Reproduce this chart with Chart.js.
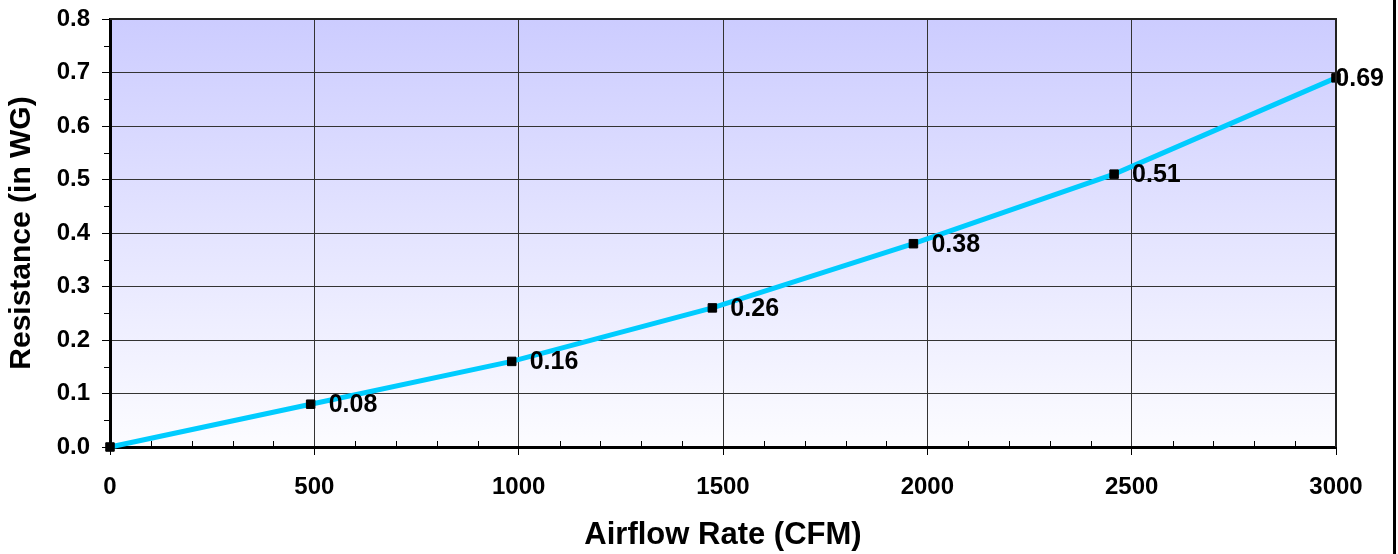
<!DOCTYPE html>
<html>
<head>
<meta charset="utf-8">
<script src="https://cdn.jsdelivr.net/npm/chart.js@4.4.1/dist/chart.umd.min.js"></script>
<style>
    html, body { margin: 0; padding: 0; background: #fff; }
    #wrap { width: 1398px; height: 554px; position: relative; }
</style>
</head>
<body>
<div id="wrap"><canvas id="resistanceChart" width="1398" height="554"></canvas></div>
<script>
// airflow (CFM) vs resistance (in WG)
const airflow = [0, 491, 983, 1474, 1966, 2457, 3000];
const resistance = [0, 0.08, 0.16, 0.26, 0.38, 0.51, 0.69];
const pointLabels = ['', '0.08', '0.16', '0.26', '0.38', '0.51', '0.69'];
const xMinorTicks = [100, 200, 300, 400, 600, 700, 800, 900, 1100, 1200, 1300, 1400,
    1600, 1700, 1800, 1900, 2100, 2200, 2300, 2400, 2600, 2700, 2800, 2900];
const yMinorTicks = [0.05, 0.15, 0.25, 0.35, 0.45, 0.55, 0.65, 0.75];

const fontFamily = "'Liberation Sans', Arial, sans-serif";

const plotBackground = {
    id: 'plotBackground',
    beforeDraw(chart) {
        const { ctx, chartArea: a } = chart;
        const grad = ctx.createLinearGradient(0, a.top, 0, a.bottom);
        grad.addColorStop(0, '#ccccff');
        grad.addColorStop(1, '#fcfcff');
        ctx.save();
        ctx.fillStyle = grad;
        ctx.fillRect(a.left, a.top, a.right - a.left, a.bottom - a.top);
        ctx.restore();
    },
    afterDraw(chart) {
        const { ctx, chartArea: a } = chart;
        const xs = chart.scales.x, ys = chart.scales.y;
        ctx.save();
        // minor ticks
        ctx.strokeStyle = '#000';
        ctx.lineWidth = 1;
        ctx.beginPath();
        xMinorTicks.forEach(v => {
            const px = Math.round(xs.getPixelForValue(v)) + 0.5;
            ctx.moveTo(px, a.bottom);
            ctx.lineTo(px, a.bottom - 6);
        });
        yMinorTicks.forEach(v => {
            const py = Math.round(ys.getPixelForValue(v)) + 0.5;
            ctx.moveTo(a.left, py);
            ctx.lineTo(a.left - 6, py);
        });
        ctx.stroke();
        // top and right frame of plot area
        ctx.strokeStyle = '#222';
        ctx.lineWidth = 2;
        ctx.beginPath();
        ctx.moveTo(a.left, a.top);
        ctx.lineTo(a.right, a.top);
        ctx.lineTo(a.right, a.bottom);
        ctx.stroke();
        // outer edge line on the right
        ctx.fillStyle = '#000';
        ctx.fillRect(1393, 0, 3, 554);
        ctx.restore();
    }
};

const valueLabels = {
    id: 'valueLabels',
    afterDatasetsDraw(chart) {
        const { ctx } = chart;
        const meta = chart.getDatasetMeta(0);
        ctx.save();
        ctx.font = 'bold 25px ' + fontFamily;
        ctx.fillStyle = '#000';
        ctx.textBaseline = 'middle';
        ctx.textAlign = 'left';
        meta.data.forEach((pt, i) => {
            const txt = pointLabels[i];
            if (!txt) return;
            const w = ctx.measureText(txt).width;
            const x = Math.min(pt.x + 18, 1384 - w);
            ctx.fillText(txt, x, pt.y + 1);
        });
        ctx.restore();
    }
};

function noScalePadding(scale) {
    scale.paddingTop = 0;
    scale.paddingBottom = 0;
    scale.paddingLeft = 0;
    scale.paddingRight = 0;
}

new Chart(document.getElementById('resistanceChart'), {
    type: 'scatter',
    data: {
        datasets: [{
            data: airflow.map((x, i) => ({ x: x, y: resistance[i] })),
            showLine: true,
            borderColor: '#00ccff',
            borderWidth: 5,
            tension: 0,
            pointStyle: 'rect',
            pointRadius: 6,
            pointBackgroundColor: '#000',
            pointBorderColor: '#000',
            pointBorderWidth: 1,
            clip: false
        }]
    },
    options: {
        responsive: false,
        animation: false,
        devicePixelRatio: 1,
        layout: { padding: { left: 0, right: 62, top: 19, bottom: 0 } },
        plugins: {
            legend: { display: false },
            tooltip: { enabled: false }
        },
        scales: {
            x: {
                type: 'linear',
                min: 0,
                max: 3000,
                afterFit(scale) { scale.height = 107; noScalePadding(scale); },
                ticks: {
                    stepSize: 500,
                    color: '#000',
                    padding: 18,
                    maxRotation: 0,
                    callback: v => String(v),
                    font: { family: fontFamily, size: 24, weight: 'bold' }
                },
                grid: { color: '#333', lineWidth: 1, tickColor: '#000', tickLength: 8 },
                border: { display: true, color: '#000', width: 3 },
                title: {
                    display: true,
                    text: 'Airflow Rate (CFM)',
                    color: '#000',
                    padding: { top: 0, bottom: 0 },
                    font: { family: fontFamily, size: 31, weight: 'bold' }
                }
            },
            y: {
                min: 0,
                max: 0.8,
                afterFit(scale) { scale.width = 110; noScalePadding(scale); },
                ticks: {
                    stepSize: 0.1,
                    color: '#000',
                    padding: 12,
                    callback: v => Number(v).toFixed(1),
                    font: { family: fontFamily, size: 24, weight: 'bold' }
                },
                grid: { color: '#333', lineWidth: 1, tickColor: '#000', tickLength: 8 },
                border: { display: true, color: '#000', width: 3 },
                title: {
                    display: true,
                    text: 'Resistance (in WG)',
                    color: '#000',
                    padding: { top: 4, bottom: 4 },
                    font: { family: fontFamily, size: 30, weight: 'bold' }
                }
            }
        }
    },
    plugins: [plotBackground, valueLabels]
});
</script>
</body>
</html>
